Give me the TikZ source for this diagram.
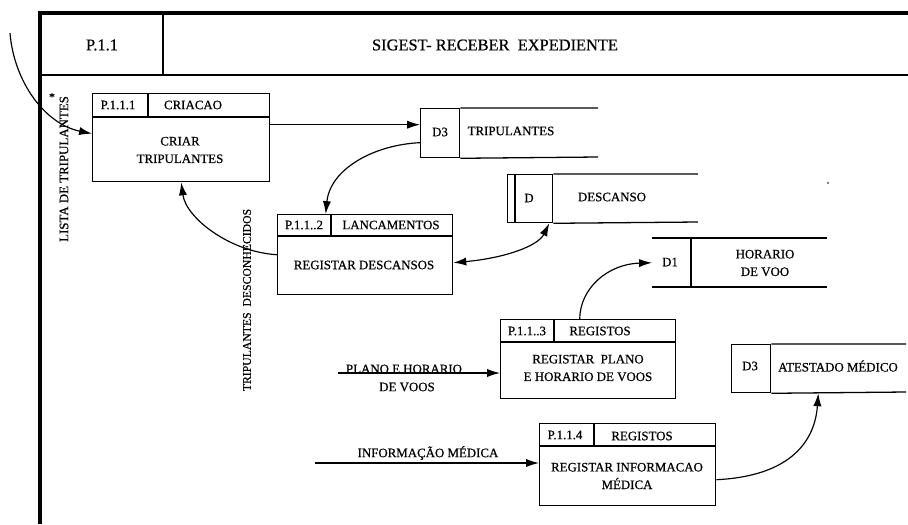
\documentclass[tikz,border=0pt]{standalone}
\usepackage{fontspec}
\setmainfont{Liberation Serif}[BoldFont=Liberation Serif,BoldFeatures={FakeBold=0.6}]
\usetikzlibrary{arrows.meta}
\begin{document}
\begin{tikzpicture}[x=0.03cm,y=-0.03cm,
  size/.style 2 args={minimum width=#1*0.03cm,minimum height=#2*0.03cm},
  proc/.style={draw,line width=1.2pt,inner sep=0pt,anchor=north west},
  cell/.style={draw,line width=1.1pt,inner sep=0pt,anchor=north west},
  hole/.style={inner sep=0pt,anchor=north west},
  edge/.style={line width=1.1pt},
  txt/.style={font=\fontsize{11}{15}\selectfont\bfseries,inner sep=0pt,align=center},
  big/.style={font=\fontsize{14}{16}\selectfont\bfseries,inner sep=0pt},
  side/.style={font=\fontsize{10}{12}\selectfont\bfseries,inner sep=0pt,rotate=90},
  flow/.style={line width=1pt,-{Latex[length=11pt,width=7pt]}},
  both/.style={line width=1pt,{Latex[length=11pt,width=7pt]}-{Latex[length=11pt,width=7pt]}}]
\useasboundingbox (0,0) rectangle (908,524);

% outer frame and heading
\draw[line width=3pt] (40,524) -- (40,13) -- (908,13);
\draw[line width=1.5pt] (40,75) -- (908,75);
\draw[line width=1.5pt] (163,13) -- (163,75);
\node[big] (pid) at (102,45) {P.1.1};
\node[big] (title) at (495,45) {SIGEST- RECEBER\ \ EXPEDIENTE};

% process P.1.1.1
\node[proc,size={177}{88}] (p1) at (92,93) {};
\draw[edge] (92,117) -- (269,117) (148,93) -- (148,117);
\node[txt] (p1id) at (118,105) {P.1.1.1};
\node[txt] (p1hd) at (193,105) {CRIACAO};
\node[txt] (p1tx) at (180,150) {CRIAR\\TRIPULANTES};

% process P.1.1.2
\node[proc,size={175}{80}] (p2) at (277,214) {};
\draw[edge] (277,236) -- (452,236) (331,214) -- (331,236);
\node[txt] (p2id) at (304,225) {P.1.1..2};
\node[txt] (p2hd) at (391,225) {LANCAMENTOS};
\node[txt] (p2tx) at (364,265) {REGISTAR DESCANSOS};

% process P.1.1.3
\node[proc,size={175}{79}] (p3) at (500,319) {};
\draw[edge] (500,342) -- (675,342) (554,319) -- (554,342);
\node[txt] (p3id) at (527,331) {P.1.1..3};
\node[txt] (p3hd) at (600,331) {REGISTOS};
\node[txt] (p3tx) at (588,368) {REGISTAR\ \ PLANO\\E HORARIO DE VOOS};

% process P.1.1.4
\node[proc,size={176}{82}] (p4) at (539,423) {};
\draw[edge] (539,446) -- (715,446) (594,423) -- (594,446);
\node[txt] (p4id) at (565,435) {P.1.1.4};
\node[txt] (p4hd) at (642,436) {REGISTOS};
\node[txt] (p4tx) at (627,476) {REGISTAR INFORMACAO\\MÉDICA};

% data store D3 TRIPULANTES
\node[cell,size={39}{49}] (d3id) at (420,108) {};
\draw[edge] (d3id.north east) -- (598,108) (d3id.south east) -- (598,157);
\node[txt] (d3lb) at (440,132) {D3};
\node[txt] (d3tx) at (511,131) {TRIPULANTES};

% data store D DESCANSO
\node[cell,size={45}{48}] (dsid) at (507,174) {};
\draw[edge] (515,174) -- (515,222);
\draw[edge] (dsid.north east) -- (698,174) (dsid.south east) -- (698,222);
\node[txt] (dslb) at (529,198) {D};
\node[txt] (dstx) at (612,197) {DESCANSO};
\fill (828,183) circle (0.8pt);

% data store D1 HORARIO DE VOO
\node[hole,size={39}{49}] (d1id) at (652,238) {};
\draw[edge] (652,238) -- (827,238) (652,287) -- (827,287) (691,238) -- (691,287);
\node[txt] (d1lb) at (670,262) {D1};
\node[txt] (d1tx) at (765,263) {HORARIO\\DE VOO};

% data store D3 ATESTADO MEDICO
\node[cell,size={39}{48}] (atid) at (731,344) {};
\draw[edge] (atid.north east) -- (906,344) (atid.south east) -- (906,392);
\node[txt] (atlb) at (750,366) {D3};
\node[txt] (attx) at (838,366) {ATESTADO MÉDICO};

% data flows
\coordinate (listain) at (10,33);
\draw[flow] (listain) .. controls (14,82) and (45,124) .. ([yshift=0.12cm]p1.west);
\node[side,font=\fontsize{11}{12}\selectfont\bfseries] (lista) at (64,169) {LISTA DE TRIPULANTES};
\node[font=\fontsize{10}{12}\selectfont\bfseries,inner sep=0pt] (star) at (52,97) {*};

\draw[flow] ([yshift=0.39cm]p1.east) -- ([yshift=0.39cm]p1.east -| d3id.west);
\draw[flow] ([yshift=-0.285cm]d3id.west) .. controls (372,145) and (330,170) .. ([xshift=-1.185cm]p2.north);
\draw[flow] (p2.west) .. controls (230,252) and (186,218) .. (p1.south);
\node[side] (desc) at (247,300) {TRIPULANTES\ \ DESCONHECIDOS};
\draw[both] ([yshift=-0.24cm]p2.east) .. controls (505,258) and (538,246) .. ([xshift=-0.12cm]dsid.south east);
\draw[flow] ([xshift=-0.255cm]p3.north) .. controls (580,288) and (608,264) .. (d1id.west);

\coordinate (planoin) at (338,373);
\draw[flow] (planoin) -- (planoin -| p3.west);
\node[txt] (plano1) at (404,369) {PLANO E HORARIO};
\node[txt] (plano2) at (407,387) {DE VOOS};

\coordinate (infoin) at (315,463);
\draw[flow] (infoin) -- (infoin -| p4.west);
\node[txt] (info) at (428,453) {INFORMAÇÃO MÉDICA};

\draw[flow] ([yshift=-0.45cm]p4.east) .. controls (792,476) and (815,440) .. ([xshift=1.41cm]atid.south east);
\end{tikzpicture}
\end{document}
